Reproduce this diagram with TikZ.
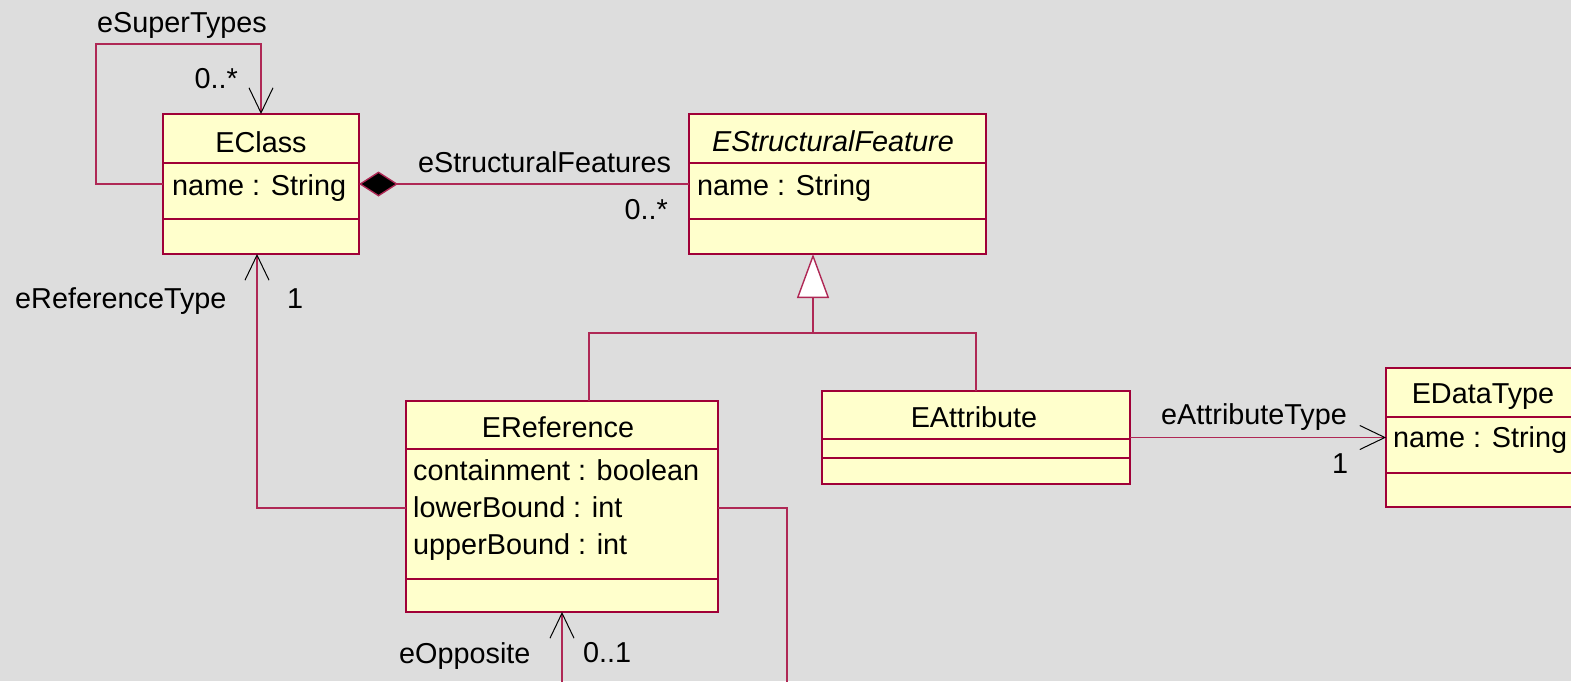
\documentclass[tikz,border=0pt]{standalone}
\usepackage{fontspec}
\setmainfont{Liberation Sans}
\usetikzlibrary{arrows.meta}
\definecolor{bgc}{RGB}{221,221,221}
\definecolor{boxfill}{RGB}{255,255,204}
\definecolor{umlred}{RGB}{160,0,55}
\definecolor{connred}{RGB}{175,40,85}
\begin{document}
\begin{tikzpicture}[x=1pt,y=-1pt,
  font=\fontsize{28.8}{32}\selectfont,
  classbox/.style={draw=umlred, fill=boxfill, line width=1.6pt, inner sep=0pt, outer sep=0pt},
  divider/.style={draw=umlred, line width=1.2pt},
  conn/.style={draw=connred, line width=1.4pt},
  txt/.style={inner sep=0pt, anchor=base west},
  rtxt/.style={inner sep=0pt, anchor=base east},
  ctxt/.style={inner sep=0pt, anchor=base},
  openarr/.tip={Straight Barb[length=25pt, width=24pt, line width=1pt, color=black]}]
\useasboundingbox (0,0) rectangle (1571,681);
\clip (0,0) rectangle (1571,681);
\fill[bgc] (0,0) rectangle (1571,681);

% class boxes
\node[classbox, minimum width=196pt, minimum height=140pt] (eclass) at (261,184) {};
\node[classbox, minimum width=297pt, minimum height=140pt] (esf) at (837.5,184) {};
\node[classbox, minimum width=312pt, minimum height=211pt] (eref) at (562,506.5) {};
\node[classbox, minimum width=308pt, minimum height=93pt] (eattr) at (976,437.5) {};
\node[classbox, minimum width=194pt, minimum height=139pt] (edt) at (1483,437.5) {};

% compartment dividers
\draw[divider] (eclass.west |- 0,163) -- (eclass.east |- 0,163);
\draw[divider] (eclass.west |- 0,219) -- (eclass.east |- 0,219);
\draw[divider] (esf.west |- 0,163) -- (esf.east |- 0,163);
\draw[divider] (esf.west |- 0,219) -- (esf.east |- 0,219);
\draw[divider] (eref.west |- 0,449) -- (eref.east |- 0,449);
\draw[divider] (eref.west |- 0,579) -- (eref.east |- 0,579);
\draw[divider] (eattr.west |- 0,439) -- (eattr.east |- 0,439);
\draw[divider] (eattr.west |- 0,458) -- (eattr.east |- 0,458);
\draw[divider] (edt.west |- 0,417) -- (edt.east |- 0,417);
\draw[divider] (edt.west |- 0,473) -- (edt.east |- 0,473);

% helper coordinates
\coordinate (loopl) at (96,184);
\coordinate (loopt) at (96,44);
\coordinate (gj) at (813,333);
\coordinate (jl) at (589,333);
\coordinate (jr) at (976,333);
\coordinate (rt) at (257,508);
\coordinate (rr) at (787,508);
\coordinate (oppb) at (562,700);

% eSuperTypes self loop
\draw[conn, -{openarr}] (eclass.west) -- (loopl) -- (loopt) -| (eclass.north);
% composition
\draw[conn, {Diamond[length=39pt,width=25pt,fill=black]}-] (eclass.east) -- (esf.west);
% generalization
\draw[conn, -{Triangle[length=44pt,width=32pt,fill=white]}] (gj) -- (gj |- esf.south);
\draw[conn] (jl |- eref.north) -- (jl) -- (jr) -- (eattr.north);
% eReferenceType
\draw[conn, -{openarr}] (eref.west |- rt) -- (rt) -- (rt |- eclass.south);
% right line going down
\draw[conn] (eref.east |- rr) -- (rr) -- (rr |- oppb);
% eOpposite
\draw[conn, -{openarr}] (oppb) -- (eref.south);
% eAttributeType
\draw[conn, -{openarr}] (eattr.east) -- (edt.west);

% labels
\node[txt] (l1) at (97,32) {eSuperTypes};
\node[rtxt] (l2) at (238,88) {0..*};
\node[ctxt] (t1) at (261,152) {EClass};
\node[txt] (a1) at (172,195) {name : String};
\node[txt] (l3) at (418,172) {eStructuralFeatures};
\node[rtxt] (l4) at (668,219) {0..*};
\node[ctxt, font=\fontsize{28.8}{32}\selectfont\itshape] (t2) at (833,151) {EStructuralFeature};
\node[txt] (a2) at (697,195) {name : String};
\node[ctxt] (t3) at (558,437) {EReference};
\node[txt] (a3) at (413,480) {containment : boolean};
\node[txt] (a4) at (413,517) {lowerBound : int};
\node[txt] (a5) at (413,554) {upperBound : int};
\node[txt] (l5) at (399,663) {eOpposite};
\node[txt] (l6) at (583,662) {0..1};
\node[txt] (l7) at (15,308) {eReferenceType};
\node[txt] (l8) at (287,308) {1};
\node[ctxt] (t4) at (974,427) {EAttribute};
\node[txt] (l9) at (1161,424) {eAttributeType};
\node[txt] (l10) at (1332,473) {1};
\node[ctxt] (t5) at (1483,403) {EDataType};
\node[txt] (a6) at (1393,447) {name : String};
\end{tikzpicture}
\end{document}
